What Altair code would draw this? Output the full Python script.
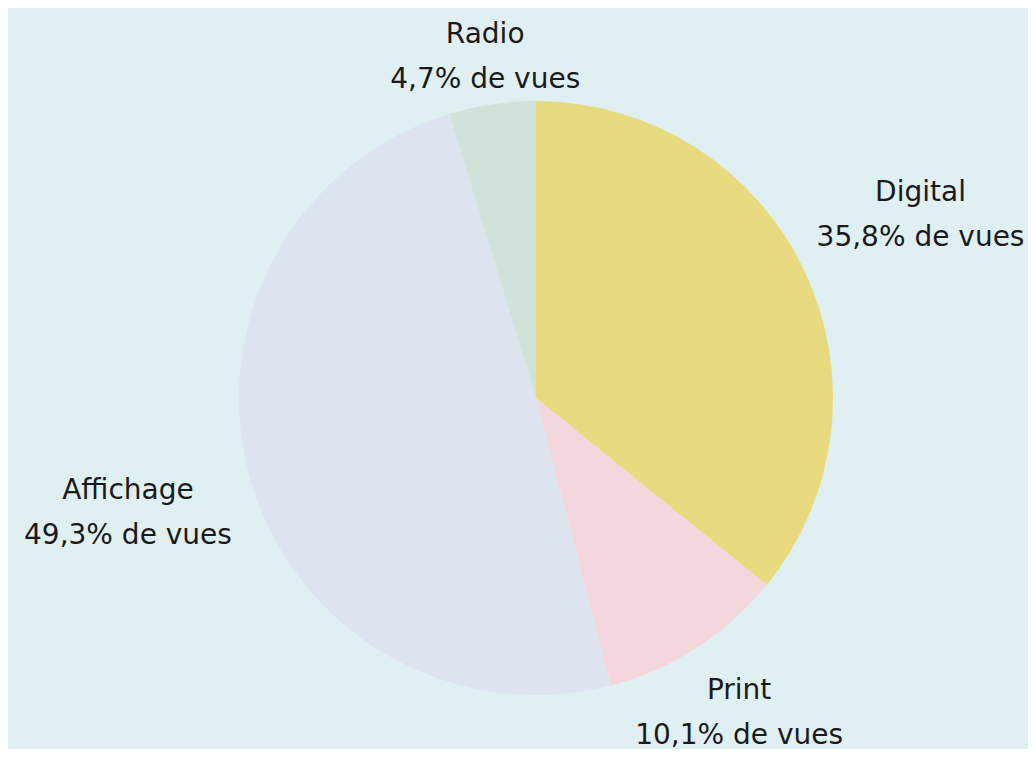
import altair as alt
import pandas as pd

categories = ["Digital", "Print", "Affichage", "Radio"]
shares = [35.8, 10.1, 49.3, 4.7]
labels = ["35,8% de vues", "10,1% de vues", "49,3% de vues", "4,7% de vues"]
colors = ["#e8da7e", "#f4d7dc", "#dee4ef", "#d1e2d9"]

# layout (label distance from the pie centre, in px)
label_radius = {"Digital": 426, "Print": 375, "Affichage": 424, "Radio": 345}

df = pd.DataFrame({
    "cat": categories,
    "share": shares,
    "order": list(range(len(categories))),
    "label": [f"{c}\n{l}" for c, l in zip(categories, labels)],
})
df["lr"] = df["cat"].map(label_radius)

cx, cy, R = 528, 390, 297

pie = alt.Chart(df).mark_arc(outerRadius=R, stroke=None).encode(
    theta=alt.Theta("share:Q", stack=True),
    order=alt.Order("order:Q"),
    x=alt.value(cx),
    y=alt.value(cy),
    color=alt.Color("cat:N", scale=alt.Scale(domain=categories, range=colors), legend=None),
)

text = alt.Chart(df).transform_window(
    cum="sum(share)", sort=[alt.SortField("order")], frame=[None, 0]
).transform_joinaggregate(
    total="sum(share)"
).transform_calculate(
    mid="(datum.cum - datum.share / 2) / datum.total * 2 * PI"
).mark_text(
    font="DejaVu Sans", fontSize=28, lineHeight=45, lineBreak="\n",
    align="center", baseline="middle", dy=-22, color="#1a1a1a"
).encode(
    theta=alt.Theta("mid:Q", scale=None),
    radius=alt.Radius("lr:Q", scale=None),
    x=alt.value(cx),
    y=alt.value(cy),
    text="label:N",
)

chart = (pie + text).properties(
    width=1020, height=741,
    autosize=alt.AutoSizeParams(type="fit", contains="padding"),
    padding=0,
    background="#dfeff2",
).configure_view(stroke=None)

chart.save("out.html", embed_options={"renderer": "svg", "actions": False})
